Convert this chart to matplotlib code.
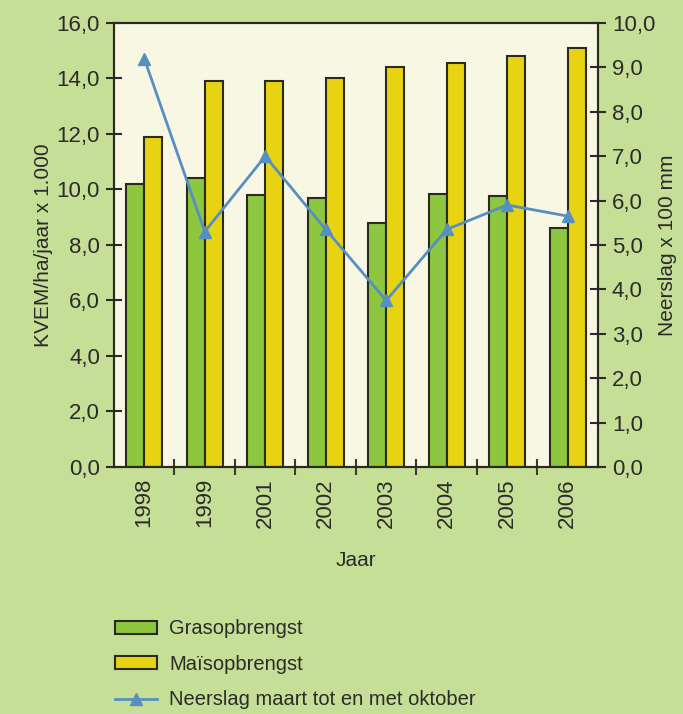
import matplotlib.pyplot as plt
import numpy as np
from matplotlib.ticker import MultipleLocator, FixedLocator, FuncFormatter

# Data
jaren = ['1998', '1999', '2001', '2002', '2003', '2004', '2005', '2006']
gras = [10.2, 10.4, 9.8, 9.7, 8.8, 9.85, 9.75, 8.6]
mais = [11.9, 13.9, 13.9, 14.0, 14.4, 14.55, 14.8, 15.1]
neerslag = [9.2, 5.3, 7.0, 5.35, 3.75, 5.35, 5.9, 5.65]

plt.rcParams['font.family'] = ['Liberation Sans', 'DejaVu Sans']

bg = '#c5df96'
plot_bg = '#f8f7e4'
green = '#8dc63f'
yellow = '#e8d313'
blue = '#5690c0'
edge = '#2b2a20'
text_c = '#2b2b2b'

fig = plt.figure(figsize=(6.83, 7.14), dpi=100, facecolor=bg)
ax = fig.add_axes([0.1669, 0.346, 0.7086, 0.6218], facecolor=plot_bg)

x = np.arange(len(jaren))
w = 0.3
b1 = ax.bar(x - w / 2, gras, w, color=green, edgecolor=edge, linewidth=1.5,
            label='Grasopbrengst', zorder=2)
b2 = ax.bar(x + w / 2, mais, w, color=yellow, edgecolor=edge, linewidth=1.5,
            label='Maïsopbrengst', zorder=2)

ax.set_xlim(-0.5, len(jaren) - 0.5)
ax.set_ylim(0, 16)
ax.yaxis.set_major_locator(MultipleLocator(2))
fmt = FuncFormatter(lambda v, p: f'{v:.1f}'.replace('.', ','))
ax.yaxis.set_major_formatter(fmt)
ax.set_xticks(x)
ax.set_xticklabels(jaren, rotation=90)
ax.xaxis.set_minor_locator(FixedLocator(x[:-1] + 0.5))
ax.tick_params(axis='x', which='major', length=0, pad=8, labelsize=16, colors=text_c)
ax.tick_params(axis='x', which='minor', length=12, width=1.5, direction='inout', color='#3a3a30')
ax.tick_params(axis='y', length=12, width=1.5, direction='inout', labelsize=16,
               colors=text_c, pad=4)
ax.set_ylabel('KVEM/ha/jaar x 1.000', fontsize=15, color=text_c, labelpad=3)
ax.set_xlabel('Jaar', fontsize=15, color=text_c, labelpad=17)
for s in ax.spines.values():
    s.set_linewidth(1.5)
    s.set_color('#2b2a20')

ax2 = ax.twinx()
ln, = ax2.plot(x, neerslag, color=blue, linewidth=2, marker='^', markersize=9,
               label='Neerslag maart tot en met oktober', zorder=3)
ax2.set_ylim(0, 10)
ax2.yaxis.set_major_locator(MultipleLocator(1))
ax2.yaxis.set_major_formatter(fmt)
ax2.tick_params(axis='y', length=12, width=1.5, direction='inout', labelsize=16,
                colors=text_c, pad=4)
ax2.set_ylabel('Neerslag x 100 mm', fontsize=15, color=text_c, labelpad=2)
for s in ax2.spines.values():
    s.set_linewidth(1.5)
    s.set_color('#2b2a20')

leg = fig.legend(handles=[b1, b2, ln], loc='upper left', bbox_to_anchor=(0.142, 0.158),
                 frameon=False, fontsize=14.5, handlelength=2.1, handleheight=0.6,
                 labelspacing=0.82, handletextpad=0.6, labelcolor=text_c)

fig.savefig('out.png', dpi=100, facecolor=bg)
